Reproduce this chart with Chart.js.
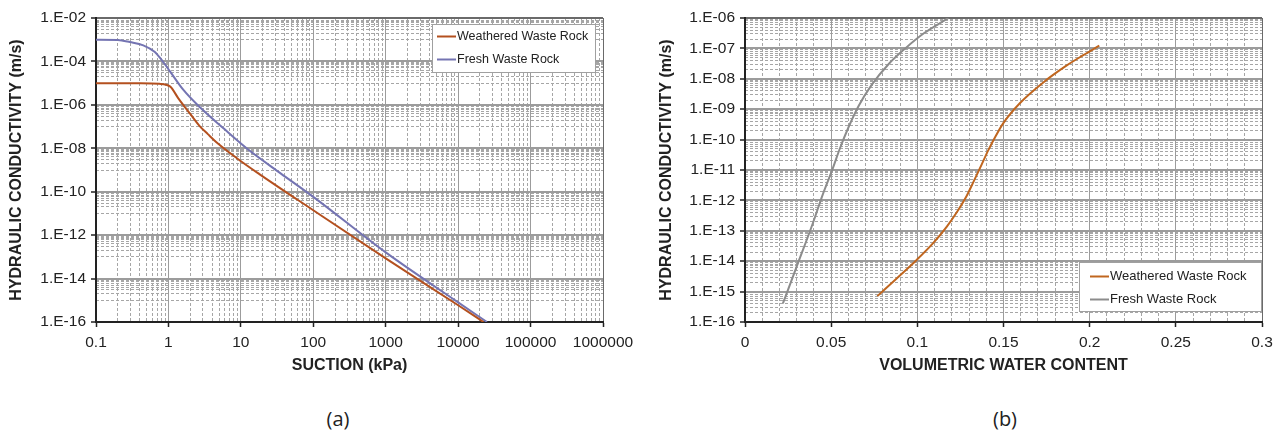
<!DOCTYPE html>
<html>
<head>
<meta charset="utf-8">
<title>Hydraulic conductivity functions</title>
<script src="https://cdn.jsdelivr.net/npm/chart.js@4.4.1/dist/chart.umd.min.js"></script>
<style>
  body { margin: 0; background: #fff; width: 1281px; height: 434px; overflow: hidden; position: relative; }
  .panel { position: absolute; top: 0; }
  .caption { position: absolute; font-family: "Open Sans", sans-serif; font-size: 20px; line-height: 24px; color: #222; transform: translateX(-50%); }
</style>
</head>
<body>
<canvas id="chartA" class="panel" width="640" height="390" style="left:0"></canvas>
<canvas id="chartB" class="panel" width="641" height="390" style="left:640px"></canvas>
<div class="caption" style="left:338px; top:407px">(a)</div>
<div class="caption" style="left:1005px; top:407px">(b)</div>
<script>
// (a) conductivity against suction
const suctionWeathered = [0.1, 0.4, 0.75, 1.05, 1.37, 2.0, 2.7, 3.5, 4.6, 8.8, 18, 100, 1000, 10000, 22400];
const kWeatheredA = [1.0e-5, 9.8e-6, 9.3e-6, 7.1e-6, 2.0e-6, 3.8e-7, 1.05e-7, 4.5e-8, 1.9e-8, 3.5e-9, 6.5e-10, 1.4e-11, 8.5e-14, 5.9e-16, 1.0e-16];
const suctionFresh = [0.1, 0.2, 0.295, 0.45, 0.65, 0.8, 1.05, 1.6, 2.7, 5.7, 12, 35, 100, 1000, 10000, 25000];
const kFreshA = [1.0e-3, 9.8e-4, 7.8e-4, 5.5e-4, 2.7e-4, 1.2e-4, 3.5e-5, 5.0e-6, 7.9e-7, 8.5e-8, 1.0e-8, 7.2e-10, 5.8e-11, 1.6e-13, 8.0e-16, 1.0e-16];

const aXTickValues = [0.1, 1, 10, 100, 1000, 10000, 100000, 1000000];
const aXTickLabels = ['0.1', '1', '10', '100', '1000', '10000', '100000', '1000000'];
const aYTickValues = [1e-16, 1e-14, 1e-12, 1e-10, 1e-8, 1e-6, 1e-4, 1e-2];
const aYTickLabels = ['1.E-16', '1.E-14', '1.E-12', '1.E-10', '1.E-08', '1.E-06', '1.E-04', '1.E-02'];

// (b) conductivity against volumetric water content
const vwcWeathered = [0.0768, 0.088, 0.0996, 0.1093, 0.117, 0.1228, 0.1286, 0.1325, 0.1373, 0.1412, 0.1451, 0.1499, 0.1596, 0.1731, 0.1867, 0.1963, 0.2056];
const kWeatheredB = [7.1e-16, 2.7e-15, 1.1e-14, 4.0e-14, 1.35e-13, 4.0e-13, 1.4e-12, 4.0e-12, 1.5e-11, 4.5e-11, 1.2e-10, 3.5e-10, 1.6e-9, 7.6e-9, 2.75e-8, 6.0e-8, 1.23e-7];
const vwcFresh = [0.022, 0.031, 0.039, 0.045, 0.051, 0.055, 0.060, 0.066, 0.0735, 0.083, 0.093, 0.104, 0.116, 0.118];
const kFreshB = [4.1e-16, 9.5e-15, 1.55e-13, 1.5e-12, 1.15e-11, 5.0e-11, 2.5e-10, 1.3e-9, 6.3e-9, 2.9e-8, 1.0e-7, 3.2e-7, 8.5e-7, 1.0e-6];

const bXTickValues = [0, 0.05, 0.1, 0.15, 0.2, 0.25, 0.3];
const bXTickLabels = ['0', '0.05', '0.1', '0.15', '0.2', '0.25', '0.3'];
const bYTickValues = [1e-16, 1e-15, 1e-14, 1e-13, 1e-12, 1e-11, 1e-10, 1e-9, 1e-8, 1e-7, 1e-6];
const bYTickLabels = ['1.E-16', '1.E-15', '1.E-14', '1.E-13', '1.E-12', '1.E-11', '1.E-10', '1.E-09', '1.E-08', '1.E-07', '1.E-06'];

const FONT = '"Liberation Sans", Arial, sans-serif';
Chart.defaults.font.family = FONT;
Chart.defaults.color = '#222';

// minor gridline positions
function logLines(exps, mults) {
    const out = [];
    exps.forEach(e => mults.forEach(m => out.push(m * Math.pow(10, e))));
    return out;
}
const aXMinor = logLines([-1, 0, 1, 2, 3, 4, 5], [2, 3, 4, 5, 6, 7, 8, 9]);
const aYMinor = logLines([-15, -13, -11, -9, -7, -5, -3], [1, 2, 3, 4, 5, 6, 7, 8, 9]);
const bYMinor = logLines([-16, -15, -14, -13, -12, -11, -10, -9, -8, -7], [2, 3, 4, 5, 6, 7, 8, 9]);
const bXMinor = [];
for (let i = 1; i < 30; i++) if (i % 5 !== 0) bXMinor.push(i / 100);

function toPoints(xs, ys) {
    return xs.map((x, i) => ({ x: x, y: ys[i] }));
}

function majorAxis(cfg) {
    const horizontal = cfg.position === 'bottom';
    return {
        type: cfg.type,
        position: cfg.position,
        min: cfg.min,
        max: cfg.max,
        afterBuildTicks: axis => { axis.ticks = cfg.values.map(v => ({ value: v })); },
        afterFit: axis => { if (horizontal) axis.height = cfg.size; else axis.width = cfg.size; },
        ticks: {
            autoSkip: false,
            maxRotation: 0,
            padding: cfg.tickPad,
            font: { size: 15.5 },
            color: '#222',
            callback: (v, i) => cfg.labels[i]
        },
        grid: {
            color: c => (c.tick && c.tick.value === cfg.max) ? '#6a6a6a' : '#9c9c9c',
            lineWidth: cfg.gridWidth,
            tickLength: 5,
            tickColor: '#222',
            tickWidth: 1.5
        },
        border: { color: '#222', width: 2 },
        title: {
            display: true,
            text: cfg.title,
            color: '#222',
            font: { size: 16, weight: 'bold' },
            padding: cfg.titlePad
        }
    };
}

function minorAxis(type, position, min, max, values) {
    return {
        type: type,
        position: position,
        min: min,
        max: max,
        afterBuildTicks: axis => { axis.ticks = values.map(v => ({ value: v })); },
        afterFit: axis => { if (position === 'bottom') axis.height = 0; else axis.width = 0; },
        ticks: { display: false },
        grid: { color: '#a6a6a6', lineWidth: 1, drawTicks: false, z: -2 },
        border: { display: false, dash: [3, 2] }
    };
}

// legend drawn inside the plot area, like the original
const boxLegend = {
    id: 'boxLegend',
    afterDatasetsDraw(chart, args, o) {
        const { ctx, chartArea } = chart;
        const left = chartArea.right - o.right - o.width;
        const top = o.top !== undefined ? chartArea.top + o.top : chartArea.bottom - o.bottom - o.height;
        ctx.save();
        ctx.fillStyle = '#fff';
        ctx.fillRect(left, top, o.width, o.height);
        ctx.strokeStyle = '#a0a0a0';
        ctx.lineWidth = 1;
        ctx.strokeRect(left + 0.5, top + 0.5, o.width - 1, o.height - 1);
        ctx.font = o.fontSize + 'px ' + FONT;
        ctx.textBaseline = 'middle';
        chart.data.datasets.forEach((ds, i) => {
            const y = Math.round(top + o.firstRow + i * o.rowGap) + 0.5;
            ctx.strokeStyle = ds.borderColor;
            ctx.lineWidth = 2;
            ctx.beginPath();
            ctx.moveTo(left + o.swatchX, y);
            ctx.lineTo(left + o.swatchX + 19, y);
            ctx.stroke();
            ctx.fillStyle = '#222';
            ctx.fillText(ds.label, left + o.swatchX + 20, y);
        });
        ctx.restore();
    }
};

function lineSet(label, points, color) {
    return {
        label: label,
        data: points,
        borderColor: color,
        backgroundColor: color,
        borderWidth: 2,
        pointRadius: 0,
        fill: false,
        cubicInterpolationMode: 'monotone',
        xAxisID: 'x',
        yAxisID: 'y'
    };
}

function renderChartA() {
    new Chart(document.getElementById('chartA'), {
        type: 'line',
        data: {
            datasets: [
                lineSet('Weathered Waste Rock', toPoints(suctionWeathered, kWeatheredA), '#b4501f'),
                lineSet('Fresh Waste Rock', toPoints(suctionFresh, kFreshA), '#7474b2')
            ]
        },
        options: {
            responsive: false,
            animation: false,
            events: [],
            layout: { padding: { left: 0, right: 37, top: 18, bottom: 0 } },
            scales: {
                x: majorAxis({ type: 'logarithmic', position: 'bottom', min: 0.1, max: 1000000,
                    values: aXTickValues, labels: aXTickLabels, title: 'SUCTION (kPa)',
                    size: 68, tickPad: 6, gridWidth: 1, titlePad: { top: 0, bottom: 15 } }),
                y: majorAxis({ type: 'logarithmic', position: 'left', min: 1e-16, max: 1e-2,
                    values: aYTickValues, labels: aYTickLabels, title: 'HYDRAULIC CONDUCTIVITY (m/s)',
                    size: 96, tickPad: 5, gridWidth: 2, titlePad: { top: 7, bottom: 0 } }),
                xMinor: minorAxis('logarithmic', 'bottom', 0.1, 1000000, aXMinor),
                yMinor: minorAxis('logarithmic', 'left', 1e-16, 1e-2, aYMinor)
            },
            plugins: {
                legend: { display: false },
                tooltip: { enabled: false },
                boxLegend: { right: 7, top: 6, width: 164, height: 49, firstRow: 11.5, rowGap: 23.6, swatchX: 5, fontSize: 12.5 }
            }
        },
        plugins: [boxLegend]
    });
}

function renderChartB() {
    new Chart(document.getElementById('chartB'), {
        type: 'line',
        data: {
            datasets: [
                lineSet('Weathered Waste Rock', toPoints(vwcWeathered, kWeatheredB), '#c0661f'),
                lineSet('Fresh Waste Rock', toPoints(vwcFresh, kFreshB), '#8c8c8c')
            ]
        },
        options: {
            responsive: false,
            animation: false,
            events: [],
            layout: { padding: { left: 0, right: 19, top: 18, bottom: 0 } },
            scales: {
                x: majorAxis({ type: 'linear', position: 'bottom', min: 0, max: 0.3,
                    values: bXTickValues, labels: bXTickLabels, title: 'VOLUMETRIC WATER CONTENT',
                    size: 68, tickPad: 6, gridWidth: 1, titlePad: { top: 0, bottom: 15 } }),
                y: majorAxis({ type: 'logarithmic', position: 'left', min: 1e-16, max: 1e-6,
                    values: bYTickValues, labels: bYTickLabels, title: 'HYDRAULIC CONDUCTIVITY (m/s)',
                    size: 105, tickPad: 5, gridWidth: 2, titlePad: { top: 17, bottom: 0 } }),
                xMinor: minorAxis('linear', 'bottom', 0, 0.3, bXMinor),
                yMinor: minorAxis('logarithmic', 'left', 1e-16, 1e-6, bYMinor)
            },
            plugins: {
                legend: { display: false },
                tooltip: { enabled: false },
                boxLegend: { right: 0, bottom: 10, width: 183, height: 50, firstRow: 14, rowGap: 23.3, swatchX: 11, fontSize: 13 }
            }
        },
        plugins: [boxLegend]
    });
}

window.onload = function() {
    renderChartA();
    renderChartB();
};
</script>
</body>
</html>
